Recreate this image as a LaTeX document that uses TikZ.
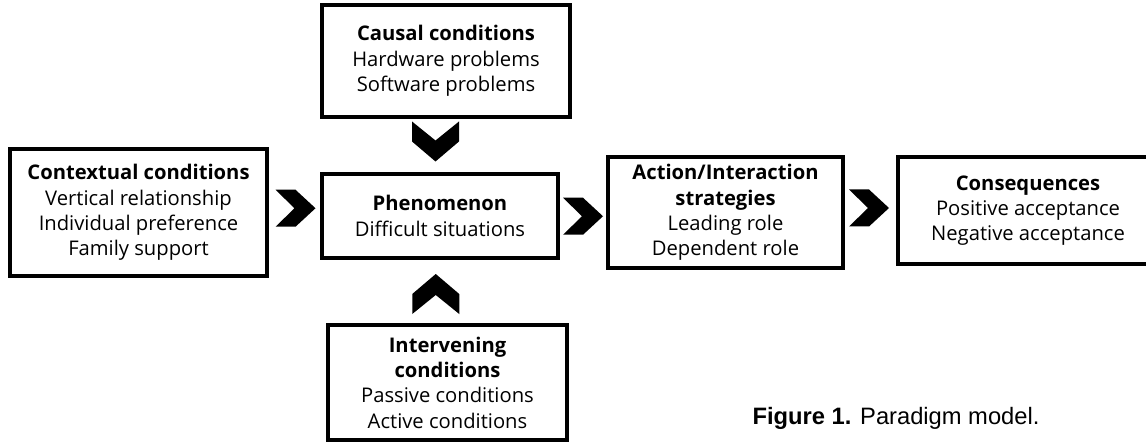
\documentclass[tikz,border=0pt]{standalone}
\usepackage{fontspec}
\setmainfont{Open Sans}
\newfontfamily\capfont{Liberation Sans}
\usetikzlibrary{calc}

\begin{document}
\begin{tikzpicture}[x=0.02cm, y=-0.02cm,
        box/.style={draw, line width=1.9pt, align=center, inner sep=0pt,
            font=\fontsize{11.5}{14.4}\selectfont},
        chev/.pic={\fill (-20,-18.5) -- (0,-18.5) -- (20,0) -- (0,18.5) -- (-20,18.5) -- (-1,0) -- cycle;}]
    \useasboundingbox (0,0) rectangle (1146,442);
    % boxes
    \node[box, minimum width=4.96cm, minimum height=2.24cm] (causal) at (446,61)
        {\textbf{Causal conditions}\\Hardware problems\\Software problems};
    \node[box, minimum width=5.14cm, minimum height=2.54cm] (context) at (138.5,212.5)
        {\textbf{Contextual conditions}\\Vertical relationship\\Individual preference\\Family support};
    \node[box, minimum width=4.72cm, minimum height=1.68cm] (phen) at (440,216)
        {\textbf{Phenomenon}\\Difficult situations};
    \node[box, minimum width=4.70cm, minimum height=2.22cm] (action) at (725.5,212.5)
        {\textbf{Action/Interaction}\\\textbf{strategies}\\Leading role\\Dependent role};
    \node[box, minimum width=5.20cm, minimum height=2.14cm] (conseq) at (1028,210.5)
        {\textbf{Consequences}\\Positive acceptance\\Negative acceptance};
    \node[box, minimum width=4.78cm, minimum height=2.30cm] (interv) at (447.5,382.5)
        {\textbf{Intervening}\\\textbf{conditions}\\Passive conditions\\Active conditions};

    % arrows
    \pic at ($(context.east)!.5!(phen.west)+(1,-6)$) {chev};
    \pic at ($(phen.east)!.5!(action.west)+(0,2)$) {chev};
    \pic at ($(action.east)!.5!(conseq.west)+(-1.5,-3.5)$) {chev};
    \pic[rotate=-90, yscale=1.27] at ($(causal.south)!.5!(phen.north)+(-7.5,-4)$) {chev};
    \pic[rotate=90, yscale=1.27] at ($(phen.south)!.5!(interv.north)+(-8,2.5)$) {chev};

    % caption
    \node[font=\capfont\fontsize{13.5}{16}\selectfont] (cap) at (896,418)
        {\textbf{Figure 1.} Paradigm model.};
\end{tikzpicture}
\end{document}
